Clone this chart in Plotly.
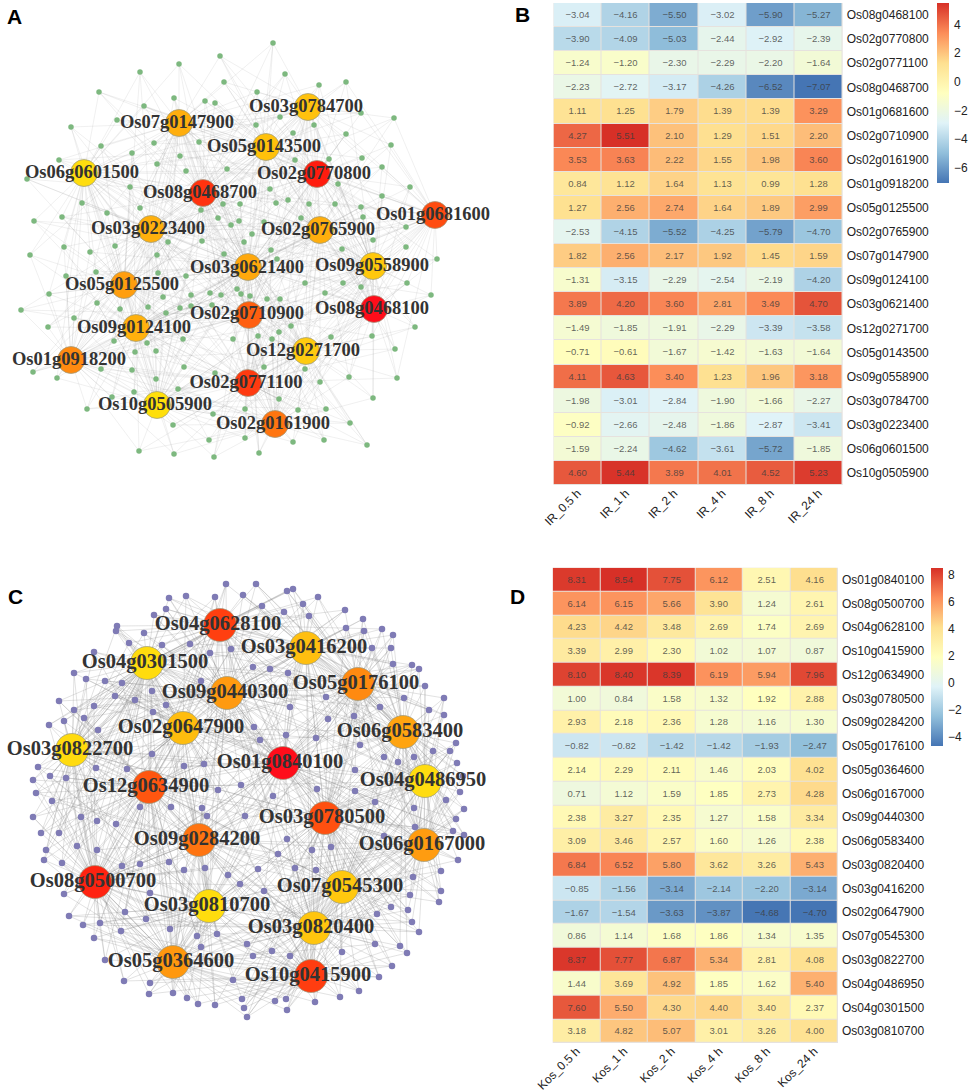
import plotly.graph_objects as go

W, H = 969, 1091
RIGHT = 40   # room right of the plot area, where the colour bars sit
PW = W - RIGHT

# ---------- Heatmap B ----------
b_cols = ["IR_0.5 h", "IR_1 h", "IR_2 h", "IR_4 h", "IR_8 h", "IR_24 h"]
b_rows = ["Os08g0468100", "Os02g0770800", "Os02g0771100", "Os08g0468700", "Os01g0681600",
          "Os02g0710900", "Os02g0161900", "Os01g0918200", "Os05g0125500", "Os02g0765900",
          "Os07g0147900", "Os09g0124100", "Os03g0621400", "Os12g0271700", "Os05g0143500",
          "Os09g0558900", "Os03g0784700", "Os03g0223400", "Os06g0601500", "Os10g0505900"]
b_vals = [
    [-3.04, -4.16, -5.50, -3.02, -5.90, -5.27],
    [-3.90, -4.09, -5.03, -2.44, -2.92, -2.39],
    [-1.24, -1.20, -2.30, -2.29, -2.20, -1.64],
    [-2.23, -2.72, -3.17, -4.26, -6.52, -7.07],
    [1.11, 1.25, 1.79, 1.39, 1.39, 3.29],
    [4.27, 5.51, 2.10, 1.29, 1.51, 2.20],
    [3.53, 3.63, 2.22, 1.55, 1.98, 3.60],
    [0.84, 1.12, 1.64, 1.13, 0.99, 1.28],
    [1.27, 2.56, 2.74, 1.64, 1.89, 2.99],
    [-2.53, -4.15, -5.52, -4.25, -5.79, -4.70],
    [1.82, 2.56, 2.17, 1.92, 1.45, 1.59],
    [-1.31, -3.15, -2.29, -2.54, -2.19, -4.20],
    [3.89, 4.20, 3.60, 2.81, 3.49, 4.70],
    [-1.49, -1.85, -1.91, -2.29, -3.39, -3.58],
    [-0.71, -0.61, -1.67, -1.42, -1.63, -1.64],
    [4.11, 4.63, 3.40, 1.23, 1.96, 3.18],
    [-1.98, -3.01, -2.84, -1.90, -1.66, -2.27],
    [-0.92, -2.66, -2.48, -1.86, -2.87, -3.41],
    [-1.59, -2.24, -4.62, -3.61, -5.72, -1.85],
    [4.60, 5.44, 3.89, 4.01, 4.52, 5.23],
]

# ---------- Heatmap D ----------
d_cols = ["Kos_0.5 h", "Kos_1 h", "Kos_2 h", "Kos_4 h", "Kos_8 h", "Kos_24 h"]
d_rows = ["Os01g0840100", "Os08g0500700", "Os04g0628100", "Os10g0415900", "Os12g0634900",
          "Os03g0780500", "Os09g0284200", "Os05g0176100", "Os05g0364600", "Os06g0167000",
          "Os09g0440300", "Os06g0583400", "Os03g0820400", "Os03g0416200", "Os02g0647900",
          "Os07g0545300", "Os03g0822700", "Os04g0486950", "Os04g0301500", "Os03g0810700"]
d_vals = [
    [8.31, 8.54, 7.75, 6.12, 2.51, 4.16],
    [6.14, 6.15, 5.66, 3.90, 1.24, 2.61],
    [4.23, 4.42, 3.48, 2.69, 1.74, 2.69],
    [3.39, 2.99, 2.30, 1.02, 1.07, 0.87],
    [8.10, 8.40, 8.39, 6.19, 5.94, 7.96],
    [1.00, 0.84, 1.58, 1.32, 1.92, 2.88],
    [2.93, 2.18, 2.36, 1.28, 1.16, 1.30],
    [-0.82, -0.82, -1.42, -1.42, -1.93, -2.47],
    [2.14, 2.29, 2.11, 1.46, 2.03, 4.02],
    [0.71, 1.12, 1.59, 1.85, 2.73, 4.28],
    [2.38, 3.27, 2.35, 1.27, 1.58, 3.34],
    [3.09, 3.46, 2.57, 1.60, 1.26, 2.38],
    [6.84, 6.52, 5.80, 3.62, 3.26, 5.43],
    [-0.85, -1.56, -3.14, -2.14, -2.20, -3.14],
    [-1.67, -1.54, -3.63, -3.87, -4.68, -4.70],
    [0.86, 1.14, 1.68, 1.86, 1.34, 1.35],
    [8.37, 7.77, 6.87, 5.34, 2.81, 4.08],
    [1.44, 3.69, 4.92, 1.85, 1.62, 5.40],
    [7.60, 5.50, 4.30, 4.40, 3.40, 2.37],
    [3.18, 4.82, 5.07, 3.01, 3.26, 4.00],
]

# ---------- Network A ----------
a_hub_names = ["Os03g0784700", "Os07g0147900", "Os05g0143500", "Os06g0601500", "Os02g0770800",
               "Os08g0468700", "Os01g0681600", "Os03g0223400", "Os02g0765900", "Os03g0621400",
               "Os09g0558900", "Os05g0125500", "Os02g0710900", "Os08g0468100", "Os09g0124100",
               "Os12g0271700", "Os01g0918200", "Os02g0771100", "Os10g0505900", "Os02g0161900"]
a_hub_x = [308, 179, 266, 84, 317, 203, 435, 151, 320, 248, 373, 124, 249, 374, 136, 306, 71, 248, 157, 275]
a_hub_y = [107, 123, 147, 173, 174, 193, 215, 229, 230, 267, 266, 285, 315, 309, 328, 351, 360, 383, 405, 424]
a_label_x = [306, 177, 264, 82, 314, 200, 433, 148, 318, 247, 372, 122, 247, 372, 134, 303, 69, 246, 155, 273]
a_label_y = [107, 123, 147, 173, 174, 193, 215, 229, 230, 268, 266, 285, 314, 309, 328, 351, 360, 383, 405, 424]
a_hub_colors = ["#FFC20E", "#FFAE0D", "#FFC10B", "#FFDD0E", "#FF1C0E", "#FF330F", "#FF4C10", "#FFB00D",
                "#FFAE0D", "#FFA80D", "#FFC80D", "#FF9E0E", "#FF5F10", "#FF0D1A", "#FFB10D", "#FFCB10",
                "#FF8A10", "#FF3A10", "#FFDF0A", "#FF7510"]
a_node_x = [273, 220, 179, 140, 285, 224, 319, 346, 99, 257, 174, 205, 215, 144, 117, 280, 361, 394, 71, 256,
            314, 293, 346, 101, 154, 199, 391, 132, 180, 59, 295, 329, 362, 157, 186, 227, 382, 27, 130, 270,
            338, 410, 382, 82, 223, 240, 276, 288, 309, 335, 361, 140, 201, 107, 62, 218, 363, 301, 34, 239,
            264, 231, 406, 252, 168, 202, 244, 373, 64, 115, 90, 271, 342, 406, 30, 157, 224, 277, 437,
            66, 96, 158, 186, 305, 343, 361, 407, 49, 163, 191, 210, 221, 237, 241, 250, 267, 280, 325, 431,
            97, 148, 120, 191, 180, 166, 212, 21, 74, 48, 291, 415, 279, 258, 272, 233, 183, 331, 372, 114,
            147, 135, 156, 395, 101, 132, 184, 264, 305, 215, 33, 57, 156, 320, 349, 397, 178, 134, 112, 373,
            279, 87, 245, 298, 326, 213, 350, 173, 245, 209, 293, 324, 367, 139, 174, 259, 214]
a_node_y = [43, 56, 64, 72, 74, 82, 85, 82, 92, 92, 98, 101, 103, 106, 120, 117, 113, 118, 127, 125,
            125, 133, 134, 146, 143, 142, 145, 153, 156, 160, 160, 159, 158, 164, 171, 169, 167, 179, 187, 189,
            184, 187, 196, 203, 204, 204, 203, 200, 204, 204, 207, 208, 210, 213, 217, 218, 217, 218, 221, 221,
            222, 225, 227, 234, 242, 241, 242, 240, 247, 246, 252, 250, 249, 247, 255, 255, 254, 259, 259,
            276, 272, 273, 276, 283, 283, 287, 283, 294, 297, 295, 293, 295, 289, 294, 296, 299, 299, 293, 295,
            303, 307, 309, 306, 308, 313, 305, 310, 318, 327, 326, 327, 332, 336, 339, 339, 339, 337, 336, 341,
            343, 352, 351, 349, 369, 370, 367, 367, 369, 373, 372, 378, 379, 382, 377, 378, 389, 392, 397, 398,
            399, 409, 409, 410, 409, 414, 423, 425, 438, 440, 442, 440, 445, 451, 454, 453, 457]

# ---------- Network C ----------
c_hub_names = ["Os04g0628100", "Os03g0416200", "Os04g0301500", "Os05g0176100", "Os09g0440300",
               "Os02g0647900", "Os06g0583400", "Os03g0822700", "Os01g0840100", "Os04g0486950",
               "Os12g0634900", "Os03g0780500", "Os09g0284200", "Os06g0167000", "Os08g0500700",
               "Os07g0545300", "Os03g0810700", "Os03g0820400", "Os05g0364600", "Os10g0415900"]
c_hub_x = [220, 306, 147, 358, 227, 183, 403, 72, 283, 425, 149, 325, 199, 424, 95, 342, 209, 314, 173, 311]
c_hub_y = [625, 648, 663, 684, 693, 728, 732, 750, 763, 781, 787, 818, 840, 845, 882, 887, 906, 928, 962, 976]
c_label_x = [218, 304, 145, 356, 225, 181, 400, 70, 280, 423, 146, 322, 197, 422, 93, 340, 207, 311, 171, 308]
c_label_y = [625, 648, 663, 684, 693, 728, 732, 750, 763, 781, 787, 818, 840, 845, 882, 887, 906, 928, 962, 976]
c_hub_colors = ["#FF3F10", "#FFBF10", "#FFDC0E", "#FF8A10", "#FF9A10", "#FFBD0E", "#FFA410", "#FFDB0E",
                "#FF0D1A", "#FFDC10", "#FF5610", "#FF5010", "#FF7410", "#FF9C10", "#FF2310", "#FFC80E",
                "#FFDD0E", "#FFC50E", "#FF980E", "#FF3D10"]
c_node_x = [226, 256, 287, 293, 169, 186, 215, 243, 318, 262, 303, 166, 154, 284, 309, 345, 363, 117, 116, 144,
            346, 364, 382, 393, 129, 162, 190, 231, 210, 372, 391, 94, 393, 412, 419, 253, 270, 288, 74, 86,
            105, 122, 201, 425, 152, 115, 135, 326, 404, 444, 59, 166, 94, 74, 290, 380, 429, 153, 354, 444,
            84, 328, 64, 49, 254, 98, 286, 316, 260, 456, 360, 433, 450, 152, 384, 414, 398, 457, 204, 184,
            38, 96, 127, 355, 50, 66, 33, 463, 241, 317, 218, 355, 460, 36, 273, 52, 375, 446, 140, 171,
            202, 414, 464, 33, 81, 97, 116, 207, 245, 456, 415, 41, 59, 453, 464, 384, 287, 77, 331, 46,
            97, 312, 278, 44, 62, 122, 140, 169, 458, 184, 205, 258, 295, 316, 441, 228, 413, 240, 264, 150,
            441, 64, 410, 439, 391, 408, 125, 377, 69, 146, 83, 100, 412, 170, 121, 419, 197, 217, 94, 247,
            375, 400, 201, 272, 342, 407, 253, 290, 105, 392, 379, 124, 150, 233, 149, 173, 359, 340, 187, 198,
            215, 242, 275, 286, 315, 244, 287, 247]
c_node_y = [584, 584, 591, 589, 598, 596, 597, 595, 597, 606, 604, 609, 615, 612, 616, 610, 619, 626, 631, 633,
            628, 631, 629, 635, 643, 645, 644, 649, 653, 648, 648, 652, 664, 665, 669, 667, 669, 673, 673, 679,
            681, 683, 681, 686, 691, 696, 700, 697, 698, 698, 701, 705, 706, 710, 707, 707, 710, 712, 716, 715,
            718, 719, 721, 725, 727, 730, 735, 738, 740, 743, 745, 751, 751, 754, 757, 757, 762, 763, 764, 766,
            767, 768, 769, 770, 776, 778, 780, 776, 785, 789, 790, 791, 792, 793, 796, 801, 802, 800, 807, 807,
            808, 808, 809, 817, 817, 821, 824, 816, 816, 819, 827, 833, 833, 831, 835, 836, 839, 846, 847, 850,
            850, 850, 854, 860, 863, 866, 864, 862, 860, 870, 868, 869, 868, 870, 871, 875, 877, 884, 891, 893,
            891, 894, 895, 902, 907, 910, 912, 914, 916, 919, 925, 923, 922, 929, 931, 932, 936, 934, 938, 944,
            944, 946, 947, 951, 952, 953, 956, 956, 960, 966, 977, 981, 983, 980, 994, 993, 991, 997, 998, 1004,
            1005, 999, 1001, 999, 1002, 1008, 1010, 1017]

RDYLBU = [[0, "#4575B4"], [1/6, "#91BFDB"], [2/6, "#E0F3F8"], [3/6, "#FFFFBF"],
          [4/6, "#FEE090"], [5/6, "#FC8D59"], [1, "#D73027"]]
SANS = "Liberation Sans"
SERIF = "Liberation Serif"


def px(x): return x / PW
def py(y): return 1 - y / H


def edges(hx, hy, nx, ny, ranks):
    """The individual edges cannot be traced in the picture: every small node is
    joined to the hubs at the given nearness ranks, and all hubs are joined to
    each other, which gives a web of the same character as the original."""
    ex, ey = [], []
    for x, y in zip(nx, ny):
        order = sorted(range(len(hx)), key=lambda i: (hx[i] - x) ** 2 + (hy[i] - y) ** 2)
        for r in ranks:
            i = order[r]
            ex += [x, hx[i], None]
            ey += [y, hy[i], None]
    for i in range(len(hx)):
        for j in range(i + 1, len(hx)):
            ex += [hx[i], hx[j], None]
            ey += [hy[i], hy[j], None]
    return ex, ey


fig = go.Figure()


def network(hx, hy, lx, ly, names, colors, nx, ny, ranks, ncolor, nsize, hsize, fsize, ecolor, ewidth):
    ex, ey = edges(hx, hy, nx, ny, ranks)
    fig.add_trace(go.Scatter(x=ex, y=ey, mode="lines", hoverinfo="skip", showlegend=False,
                             line=dict(color=ecolor, width=ewidth), xaxis="x", yaxis="y"))
    fig.add_trace(go.Scatter(x=nx, y=ny, mode="markers", showlegend=False, xaxis="x", yaxis="y",
                             marker=dict(color=ncolor, size=nsize, line=dict(width=0))))
    fig.add_trace(go.Scatter(x=hx, y=hy, mode="markers", showlegend=False, xaxis="x", yaxis="y",
                             marker=dict(color=colors, size=hsize, line=dict(color="#9a9a80", width=0.7))))
    fig.add_trace(go.Scatter(x=lx, y=ly, mode="text", text=names, showlegend=False, xaxis="x", yaxis="y",
                             textposition="middle center",
                             textfont=dict(family=SERIF, size=fsize, color="#333333", weight="bold")))


network(a_hub_x, a_hub_y, a_label_x, a_label_y, a_hub_names, a_hub_colors, a_node_x, a_node_y,
        [0, 1, 2, 4, 7], "#7DB87F", 5.5, 27, 18.5, "rgba(150,150,150,0.24)", 0.6)
network(c_hub_x, c_hub_y, c_label_x, c_label_y, c_hub_names, c_hub_colors, c_node_x, c_node_y,
        [0, 1, 2, 4, 7], "#7F7BB5", 6.5, 33, 20.5, "rgba(130,130,130,0.34)", 0.7)


def heatmap(vals, rows, cols, xa, ya, cb_x, cb_top, cb_bottom, ticks):
    zs = [v for r in vals for v in r]
    text = [[f"{v:.2f}".replace("-", "\u2212") for v in r] for r in vals]
    fig.add_trace(go.Heatmap(
        z=vals, x=cols, y=rows, text=text, texttemplate="%{text}",
        textfont=dict(family=SANS, size=9.5, color="rgba(60,60,60,0.8)"),
        colorscale=RDYLBU, zmin=min(zs), zmax=max(zs), xgap=1, ygap=1,
        xaxis=xa, yaxis=ya,
        colorbar=dict(x=px(cb_x), xanchor="left", xpad=0, ypad=0, y=py(cb_top), yanchor="top",
                      len=(cb_bottom - cb_top) / H, lenmode="fraction", thickness=12,
                      outlinewidth=0, ticks="outside", ticklen=3, tickcolor="rgba(0,0,0,0)", tickvals=ticks,
                      tickfont=dict(family=SANS, size=12, color="#222222")),
    ))


heatmap(b_vals, b_rows, b_cols, "x2", "y2", 937, 3, 183, [-6, -4, -2, 0, 2, 4])
heatmap(d_vals, d_rows, d_cols, "x3", "y3", 931, 568, 746, [-4, -2, 0, 2, 4, 6, 8])

hidden = dict(visible=False, showgrid=False, zeroline=False, fixedrange=True, automargin=False)


def hm_axes(x0, x1, y0, y1, anchor_x, anchor_y):
    xa = dict(domain=[px(x0), px(x1)], anchor=anchor_y, side="bottom", tickangle=-45, ticklen=0,
              showline=False, showgrid=False, zeroline=False, fixedrange=True, automargin=False,
              ticklabelstandoff=-2,
              tickfont=dict(family=SANS, size=12, color="#222222"))
    ya = dict(domain=[py(y1), py(y0)], anchor=anchor_x, side="right", autorange="reversed", ticklen=0,
              showline=False, showgrid=False, zeroline=False, fixedrange=True, automargin=False,
              ticklabelstandoff=3,
              tickfont=dict(family=SANS, size=12, color="#222222"))
    return xa, ya


x2, y2 = hm_axes(553.5, 842.7, 3, 485, "x2", "y2")
x3, y3 = hm_axes(552.7, 838, 567.7, 1043, "x3", "y3")

shapes = [
    dict(type="rect", layer="below", xref="paper", yref="paper", line_width=0, fillcolor="#E6E2DE",
         x0=px(553.5), x1=px(842.7), y0=py(485), y1=py(3)),
    dict(type="rect", layer="below", xref="paper", yref="paper", line_width=0, fillcolor="#E6E2DE",
         x0=px(552.7), x1=px(838), y0=py(1043), y1=py(567.7)),
]

panel_letters = ["A", "B", "C", "D"]
letter_x = [14, 522, 15, 517]
letter_y = [17, 15, 596, 596]
annotations = [dict(text=t, x=px(x), y=py(y), xref="paper", yref="paper", showarrow=False,
                    xanchor="center", yanchor="middle",
                    font=dict(family=SANS, size=21, color="#000000", weight="bold"))
               for t, x, y in zip(panel_letters, letter_x, letter_y)]

fig.update_layout(
    width=W, height=H, margin=dict(l=0, r=RIGHT, t=0, b=0, pad=0),
    paper_bgcolor="white", plot_bgcolor="rgba(0,0,0,0)", showlegend=False,
    xaxis=dict(domain=[0, 1], range=[0, PW], **hidden),
    yaxis=dict(domain=[0, 1], range=[H, 0], **hidden),
    xaxis2=x2, yaxis2=y2, xaxis3=x3, yaxis3=y3,
    shapes=shapes, annotations=annotations,
)

fig.write_html("out.html", config={"displayModeBar": False},
               post_script="document.body.style.margin='0';document.documentElement.style.overflow='hidden';")
